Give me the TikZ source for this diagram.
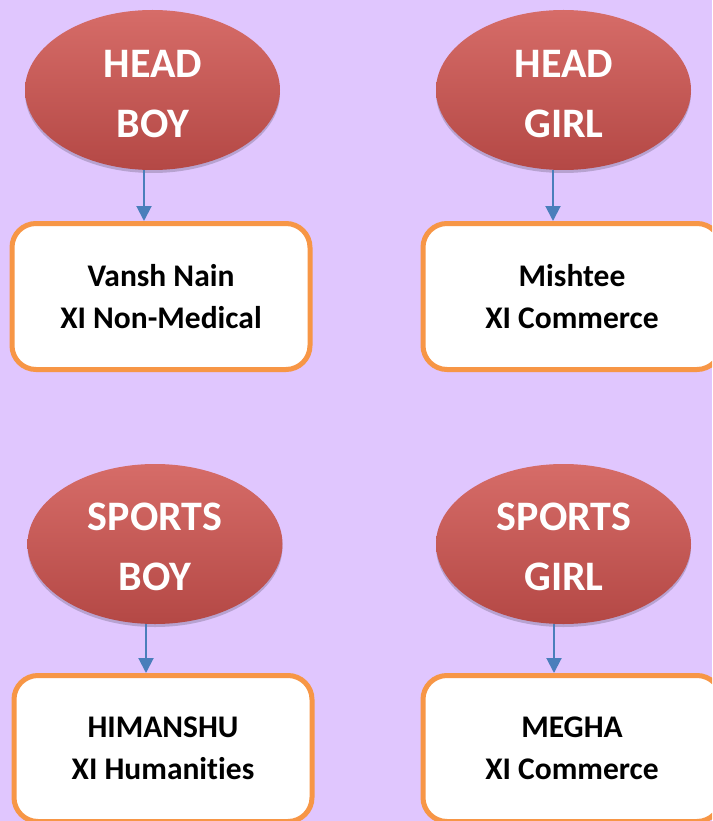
\documentclass[tikz,border=0pt]{standalone}
\usepackage{fontspec}
\setmainfont{Carlito}[Ligatures=NoCommon]
\usetikzlibrary{arrows.meta,shapes.geometric,shadows}
\definecolor{bg}{RGB}{224,198,254}
\definecolor{ered}{RGB}{192,82,79}
\definecolor{etop}{RGB}{214,108,104}
\definecolor{ebot}{RGB}{180,72,69}
\definecolor{bord}{RGB}{247,150,70}
\definecolor{arr}{RGB}{74,126,187}
\begin{document}
\begin{tikzpicture}[x=1pt,y=-1pt,
  oval/.style={ellipse, minimum width=255pt, minimum height=160pt, inner sep=0pt,
    top color=etop, middle color=ered, bottom color=ebot,
    drop shadow={shadow xshift=0pt, shadow yshift=-3pt, opacity=0.18, fill=black}},
  lbl/.style={text=white, font=\fontsize{42}{60}\selectfont\bfseries, align=center, inner sep=0pt},
  card/.style={draw=bord, line width=5pt, fill=white, rounded corners=24pt,
    minimum width=298pt, minimum height=146pt, align=center,
    font=\fontsize{31.5}{42}\selectfont\bfseries, text=black},
  link/.style={draw=arr, line width=2pt, -{Triangle[width=15pt,length=15pt]}}]
\useasboundingbox (0,0) rectangle (712,821);
\fill[bg] (0,0) rectangle (712,821);
\begin{scope}
\clip (0,0) rectangle (712,821);
% ellipses
\node[oval] (e1) at (152.5,90) {};
\node[oval] (e2) at (563.5,90) {};
\node[oval] (e3) at (155,544) {};
\node[oval] (e4) at (563.5,544) {};
\node[lbl] (t1) at (153,94) {HEAD\\BOY};
\node[lbl] (t2) at (564,94) {HEAD\\GIRL};
\node[lbl] (t3) at (155,547) {SPORTS\\BOY};
\node[lbl] (t4) at (564,547) {SPORTS\\GIRL};
% boxes
\node[card] (b1) at (161,296.5) {Vansh Nain\\XI Non-Medical};
\node[card] (b2) at (572,296.5) {Mishtee\\XI Commerce};
\node[card] (b3) at (163,748.5) {HIMANSHU\\XI Humanities};
\node[card] (b4) at (572,748.5) {MEGHA\\XI Commerce};
% connectors
\coordinate (x1) at (144,0);
\coordinate (x2) at (553,0);
\coordinate (x3) at (146,0);
\coordinate (x4) at (554,0);
\draw[link] (e1.south -| x1) -- (b1.north -| x1);
\draw[link] (e2.south -| x2) -- (b2.north -| x2);
\draw[link] (e3.south -| x3) -- (b3.north -| x3);
\draw[link] (e4.south -| x4) -- (b4.north -| x4);
\end{scope}
\end{tikzpicture}
\end{document}
